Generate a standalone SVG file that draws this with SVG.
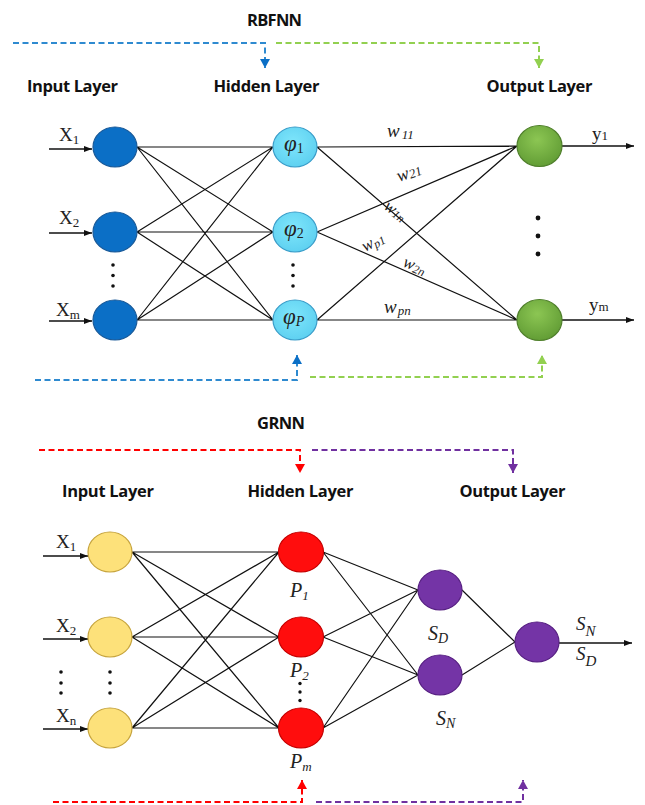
<svg xmlns="http://www.w3.org/2000/svg" width="645" height="805" viewBox="0 0 645 805">
  <style>
    .title { font-family: "Open Sans", "Liberation Sans", sans-serif; font-weight: 700; font-size: 16.5px; fill: #111; }
    .math { font-family: "Liberation Serif", "DejaVu Serif", serif; fill: #222; }
    .it { font-style: italic; }
    .link { stroke: #111; stroke-width: 1.2; fill: none; }
    .io { stroke: #111; stroke-width: 1.4; fill: none; marker-end: url(#arrowBlack); }
    .dash { fill: none; stroke-width: 2; stroke-dasharray: 6 3.5; }
    .dot { fill: #111; }
    .inTop { fill: #0b6fc6; stroke: #1b5a98; stroke-width: 1.2; }
    .hidTop { fill: url(#gCyan); stroke: #3a9cc8; stroke-width: 1.2; }
    .outTop { fill: url(#gGreen); stroke: #4f7f2b; stroke-width: 1.2; }
    .inBot { fill: #fde17a; stroke: #c6a43e; stroke-width: 1.2; }
    .hidBot { fill: #ff0d0d; stroke: #c40000; stroke-width: 1.2; }
    .sumBot { fill: #7434a6; stroke: #572082; stroke-width: 1.2; }
  </style>
  <defs>
    <radialGradient id="gCyan" cx="0.45" cy="0.4" r="0.65">
      <stop offset="0" stop-color="#7fe6fb"/>
      <stop offset="1" stop-color="#5ccff0"/>
    </radialGradient>
    <radialGradient id="gGreen" cx="0.45" cy="0.35" r="0.7">
      <stop offset="0" stop-color="#8cc653"/>
      <stop offset="1" stop-color="#5f9a33"/>
    </radialGradient>
    <marker id="arrowBlack" markerUnits="userSpaceOnUse" markerWidth="8" markerHeight="6" refX="8" refY="3" orient="auto">
      <path d="M0,0 L8,3 L0,6 z" fill="#111"/>
    </marker>
    <marker id="arrowBlue" markerUnits="userSpaceOnUse" markerWidth="9" markerHeight="10" refX="9" refY="5" orient="auto">
      <path d="M0,0 L9,5 L0,10 z" fill="#0b6fc6"/>
    </marker>
    <marker id="arrowGreen" markerUnits="userSpaceOnUse" markerWidth="9" markerHeight="10" refX="9" refY="5" orient="auto">
      <path d="M0,0 L9,5 L0,10 z" fill="#92d050"/>
    </marker>
    <marker id="arrowRed" markerUnits="userSpaceOnUse" markerWidth="9" markerHeight="10" refX="9" refY="5" orient="auto">
      <path d="M0,0 L9,5 L0,10 z" fill="#ff0000"/>
    </marker>
    <marker id="arrowPurple" markerUnits="userSpaceOnUse" markerWidth="9" markerHeight="10" refX="9" refY="5" orient="auto">
      <path d="M0,0 L9,5 L0,10 z" fill="#7030a0"/>
    </marker>
  </defs>

  <!-- ================= RBFNN ================= -->
  <text class="title" x="274.5" y="26" text-anchor="middle" textLength="55">RBFNN</text>
  <text class="title" x="72.5" y="92" text-anchor="middle" textLength="91">Input Layer</text>
  <text class="title" x="266.5" y="92" text-anchor="middle" textLength="106">Hidden Layer</text>
  <text class="title" x="539.5" y="92" text-anchor="middle" textLength="106">Output Layer</text>

  <g id="rbf-connectors">
    <!-- layer brackets -->
    <path class="dash" stroke="#2e8ad0" d="M13,43 H265 V68" marker-end="url(#arrowBlue)"/>
    <path class="dash" stroke="#92d050" d="M276,43 H539 V68" marker-end="url(#arrowGreen)"/>
    <path class="dash" stroke="#2e8ad0" d="M35,380 H297 V355" marker-end="url(#arrowBlue)"/>
    <path class="dash" stroke="#92d050" d="M310,377 H542 V355" marker-end="url(#arrowGreen)"/>
    <!-- inputs / outputs -->
    <line class="io" x1="49" y1="149" x2="92" y2="149"/>
    <line class="io" x1="49" y1="233" x2="92" y2="233"/>
    <line class="io" x1="49" y1="321" x2="92" y2="321"/>
    <line class="io" x1="562" y1="146" x2="634" y2="146"/>
    <line class="io" x1="562" y1="320" x2="634" y2="320"/>
    <!-- input to hidden -->
    <path class="link" d="M137,147 L273,147 M137,147 L273,232 M137,147 L273,320
                          M137,232 L273,147 M137,232 L273,232 M137,232 L273,320
                          M137,320 L273,147 M137,320 L273,232 M137,320 L273,320"/>
    <!-- hidden to output -->
    <path class="link" d="M317,147 L517,146 M317,147 L517,320
                          M317,232 L517,146 M317,232 L517,320
                          M317,320 L517,146 M317,320 L517,320"/>
  </g>

  <g id="rbf-in-1">
    <ellipse class="inTop" cx="115" cy="147" rx="22" ry="20"/>
    <text class="math" x="59" y="141" font-size="19">X<tspan font-size="13" dy="3">1</tspan></text>
  </g>
  <g id="rbf-in-2">
    <ellipse class="inTop" cx="115" cy="232" rx="22" ry="20"/>
    <text class="math" x="59" y="224" font-size="19">X<tspan font-size="13" dy="3">2</tspan></text>
  </g>
  <g id="rbf-in-dots">
    <circle class="dot" cx="113" cy="265" r="1.8"/>
    <circle class="dot" cx="113" cy="275.5" r="1.8"/>
    <circle class="dot" cx="113" cy="286" r="1.8"/>
  </g>
  <g id="rbf-in-m">
    <ellipse class="inTop" cx="115" cy="320" rx="22" ry="20"/>
    <text class="math" x="56" y="316" font-size="19">X<tspan font-size="13" dy="3">m</tspan></text>
  </g>

  <g id="rbf-hid-1">
    <ellipse class="hidTop" cx="295" cy="147" rx="22" ry="20"/>
    <text class="math" x="284" y="151" font-size="23"><tspan class="it">φ</tspan><tspan font-size="14" dy="2">1</tspan></text>
  </g>
  <g id="rbf-hid-2">
    <ellipse class="hidTop" cx="295" cy="232" rx="22" ry="20"/>
    <text class="math" x="284" y="236" font-size="23"><tspan class="it">φ</tspan><tspan font-size="14" dy="2">2</tspan></text>
  </g>
  <g id="rbf-hid-dots">
    <circle class="dot" cx="293" cy="265" r="1.8"/>
    <circle class="dot" cx="293" cy="275.5" r="1.8"/>
    <circle class="dot" cx="293" cy="286" r="1.8"/>
  </g>
  <g id="rbf-hid-p">
    <ellipse class="hidTop" cx="295" cy="320" rx="22" ry="20"/>
    <text class="math" x="283" y="324" font-size="23"><tspan class="it">φ</tspan><tspan class="it" font-size="14" dy="2">P</tspan></text>
  </g>

  <g id="rbf-out-1">
    <ellipse class="outTop" cx="539.5" cy="146" rx="22.5" ry="20.5"/>
    <text class="math" x="592" y="140" font-size="19">y<tspan font-size="13">1</tspan></text>
  </g>
  <g id="rbf-out-dots">
    <circle cx="538" cy="218" r="2.4" class="dot"/>
    <circle cx="538" cy="236" r="2.4" class="dot"/>
    <circle cx="538" cy="254" r="2.4" class="dot"/>
  </g>
  <g id="rbf-out-m">
    <ellipse class="outTop" cx="539.5" cy="320" rx="22.5" ry="20.5"/>
    <text class="math" x="589" y="311" font-size="19">y<tspan font-size="13">m</tspan></text>
  </g>

  <g id="rbf-weights" class="math it">
    <text x="387" y="137" font-size="19">w<tspan font-size="13" dx="2" dy="2">11</tspan></text>
    <text x="0" y="0" font-size="18" transform="translate(399,182) rotate(-20)">w<tspan font-size="13" dy="1">21</tspan></text>
    <text x="0" y="0" font-size="17" transform="translate(383,208) rotate(38)">w<tspan font-size="12" dy="1">1n</tspan></text>
    <text x="0" y="0" font-size="17" transform="translate(365,252) rotate(-28)">w<tspan font-size="12" dy="2">p1</tspan></text>
    <text x="0" y="0" font-size="17" transform="translate(402,266) rotate(22)">w<tspan font-size="12" dy="2">2n</tspan></text>
    <text x="384" y="313" font-size="19">w<tspan font-size="13" dx="1" dy="2">pn</tspan></text>
  </g>

  <!-- ================= GRNN ================= -->
  <text class="title" x="281" y="429" text-anchor="middle" textLength="48">GRNN</text>
  <text class="title" x="108" y="497" text-anchor="middle" textLength="92">Input Layer</text>
  <text class="title" x="300.5" y="497" text-anchor="middle" textLength="106">Hidden Layer</text>
  <text class="title" x="512.5" y="497" text-anchor="middle" textLength="106">Output Layer</text>

  <g id="grnn-connectors">
    <path class="dash" stroke="#ff0000" d="M39,450 H300 V473" marker-end="url(#arrowRed)"/>
    <path class="dash" stroke="#7030a0" d="M312,450 H513 V473" marker-end="url(#arrowPurple)"/>
    <path class="dash" stroke="#ff0000" d="M53,802 H302 V780" marker-end="url(#arrowRed)"/>
    <path class="dash" stroke="#7030a0" d="M316,802 H523 V780" marker-end="url(#arrowPurple)"/>
    <line class="io" x1="43" y1="556" x2="88" y2="556"/>
    <line class="io" x1="43" y1="639" x2="88" y2="639"/>
    <line class="io" x1="43" y1="729" x2="88" y2="729"/>
    <line class="io" x1="559" y1="643" x2="632" y2="643"/>
    <!-- pattern to summation layers -->
    <path class="link" d="M132,552 L279,552 M132,552 L279,637 M132,552 L279,728
                          M132,637 L279,552 M132,637 L279,637 M132,637 L279,728
                          M132,728 L279,552 M132,728 L279,637 M132,728 L279,728"/>
    <path class="link" d="M323,552 L418,590 M323,552 L418,675
                          M323,637 L418,590 M323,637 L418,675
                          M323,728 L418,590 M323,728 L418,675"/>
    <path class="link" d="M462,590 L515,642 M462,675 L515,642"/>
  </g>

  <g id="grnn-in-1">
    <ellipse class="inBot" cx="110" cy="552" rx="22" ry="20"/>
    <text class="math" x="56" y="548" font-size="19">X<tspan font-size="13" dy="3">1</tspan></text>
  </g>
  <g id="grnn-in-2">
    <ellipse class="inBot" cx="110" cy="637" rx="22" ry="20"/>
    <text class="math" x="56" y="632" font-size="19">X<tspan font-size="13" dy="3">2</tspan></text>
  </g>
  <g id="grnn-in-dots">
    <circle class="dot" cx="61" cy="672" r="1.8"/>
    <circle class="dot" cx="61" cy="683" r="1.8"/>
    <circle class="dot" cx="61" cy="693" r="1.8"/>
    <circle class="dot" cx="110" cy="672" r="1.8"/>
    <circle class="dot" cx="110" cy="683" r="1.8"/>
    <circle class="dot" cx="110" cy="693" r="1.8"/>
  </g>
  <g id="grnn-in-n">
    <ellipse class="inBot" cx="110" cy="728" rx="22" ry="20"/>
    <text class="math" x="56" y="722" font-size="19">X<tspan font-size="13" dy="3">n</tspan></text>
  </g>

  <g id="grnn-hid-1">
    <ellipse class="hidBot" cx="301" cy="552" rx="22.5" ry="20"/>
    <text class="math it" x="290" y="597" font-size="20">P<tspan font-size="13" dy="3">1</tspan></text>
  </g>
  <g id="grnn-hid-2">
    <ellipse class="hidBot" cx="301" cy="637" rx="22.5" ry="20"/>
    <text class="math it" x="290" y="677" font-size="20">P<tspan font-size="13" dy="3">2</tspan></text>
  </g>
  <g id="grnn-hid-dots">
    <circle class="dot" cx="300" cy="683.5" r="1.7"/>
    <circle class="dot" cx="300" cy="692" r="1.7"/>
    <circle class="dot" cx="300" cy="700.5" r="1.7"/>
  </g>
  <g id="grnn-hid-m">
    <ellipse class="hidBot" cx="301" cy="728" rx="22.5" ry="20"/>
    <text class="math it" x="290" y="768" font-size="20">P<tspan font-size="13" dy="3">m</tspan></text>
  </g>

  <g id="grnn-sum-d">
    <ellipse class="sumBot" cx="440" cy="590" rx="22" ry="20"/>
    <text class="math it" x="428" y="640" font-size="20">S<tspan font-size="14" dy="3">D</tspan></text>
  </g>
  <g id="grnn-sum-n">
    <ellipse class="sumBot" cx="440" cy="675" rx="22" ry="20"/>
    <text class="math it" x="436" y="725" font-size="20">S<tspan font-size="14" dy="3">N</tspan></text>
  </g>
  <g id="grnn-out">
    <ellipse class="sumBot" cx="537" cy="642" rx="22" ry="20"/>
    <text class="math it" x="576" y="630" font-size="19">S<tspan font-size="15" dy="6">N</tspan></text>
    <text class="math it" x="576" y="660" font-size="19">S<tspan font-size="15" dy="6">D</tspan></text>
  </g>
</svg>
